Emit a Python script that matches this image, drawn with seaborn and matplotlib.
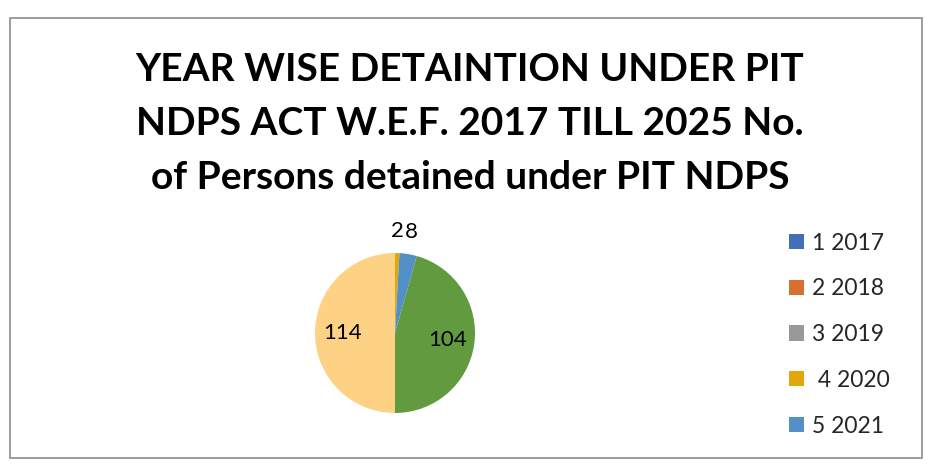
import matplotlib
matplotlib.use('Agg')
import matplotlib.pyplot as plt
import matplotlib.patches as mpatches
import numpy as np
import seaborn as sns

# --- data ---
categories = ["1 2017", "2 2018", "3 2019", " 4 2020", "5 2021", "6 2022", "Total"]
persons = [0, 0, 0, 2, 8, 104, 114]
slice_colors = ["#4170B6", "#D7702E", "#999999", "#E2A80A", "#5490C8", "#629A40", "#FDD285"]
title = ("YEAR WISE DETAINTION UNDER PIT\n"
         "NDPS ACT W.E.F. 2017 TILL 2025 No.\n"
         "of Persons detained under PIT NDPS")
n_legend = 5  # legend in the reference is cut after five entries

sns.set_theme(style="white")
plt.rcParams['font.family'] = ['Lato', 'DejaVu Sans']

W, H = 940, 476
fig = plt.figure(figsize=(W / 100, H / 100), dpi=100)

# chart border
fig.add_artist(mpatches.Rectangle((10 / W, 1 - 458 / H), 912 / W, 440 / H,
                                  transform=fig.transFigure, fill=False,
                                  edgecolor="#8c8c8c", linewidth=1.2))

fig.text(470 / W, 1 - 52 / H, title, ha="center", va="top",
         fontsize=28, fontweight="bold", linespacing=1.66, color="black")

# pie
cx, cy, r = 395, 333, 80
ax = fig.add_axes([(cx - r) / W, (H - cy - r) / H, 2 * r / W, 2 * r / H])
wedges, _ = ax.pie(persons, colors=slice_colors, startangle=90,
                   counterclock=False, radius=1,
                   wedgeprops=dict(linewidth=0))
ax.set_xlim(-1, 1)
ax.set_ylim(-1, 1)

for w, v in zip(wedges, persons):
    if v == 0:
        continue
    mid = np.deg2rad((w.theta1 + w.theta2) / 2)
    dist = 1.28 if v < 20 else 0.66
    ax.text(dist * np.cos(mid), dist * np.sin(mid), str(v),
            ha="center", va="center", fontsize=16, color="black")

fig.legend(wedges[:n_legend], categories[:n_legend], loc="upper left",
           bbox_to_anchor=(768 / W, 1 - 212 / H), frameon=False,
           fontsize=16.5, handlelength=0.65, handleheight=0.65,
           handletextpad=0.35, labelspacing=1.08)

fig.savefig("out.png", dpi=100, facecolor="white")
